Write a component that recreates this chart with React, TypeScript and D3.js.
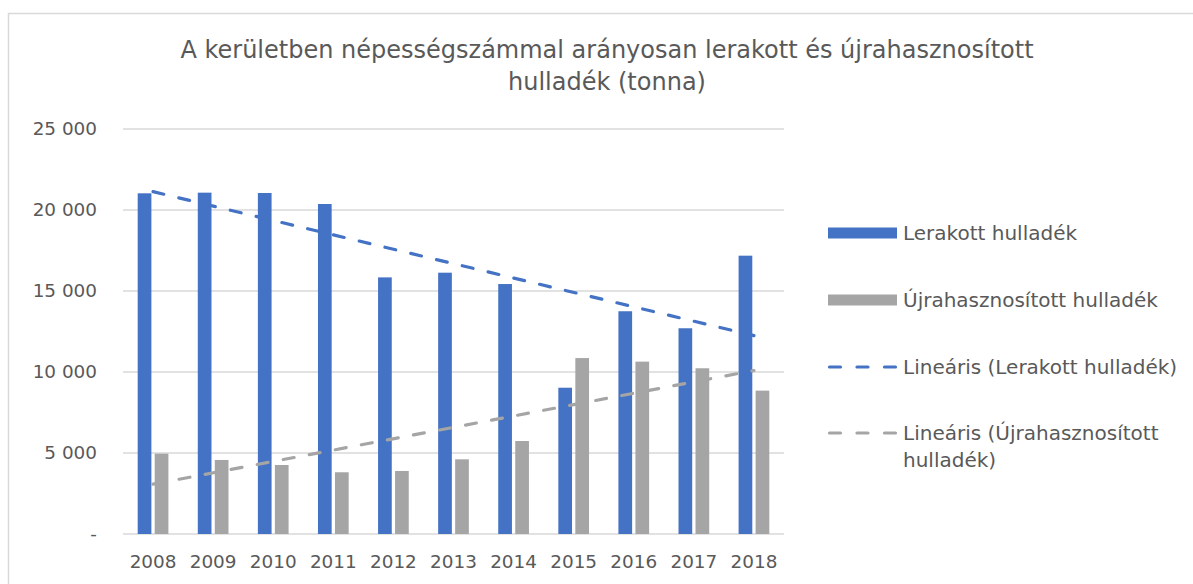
import { useRef, useEffect } from "react";
import * as d3 from "d3";

const years = ["2008", "2009", "2010", "2011", "2012", "2013", "2014", "2015", "2016", "2017", "2018"];
const lerakott = [21030, 21070, 21050, 20370, 15840, 16130, 15430, 9030, 13750, 12700, 17180];
const ujrahasznositott = [4960, 4570, 4260, 3810, 3890, 4610, 5740, 10860, 10640, 10230, 8850];
const yTicks = [0, 5000, 10000, 15000, 20000, 25000];
const titleLines = [
  "A kerületben népességszámmal arányosan lerakott és újrahasznosított",
  "hulladék (tonna)",
];
const legendLabels = [
  ["Lerakott hulladék"],
  ["Újrahasznosított hulladék"],
  ["Lineáris (Lerakott hulladék)"],
  ["Lineáris (Újrahasznosított", "hulladék)"],
];

const BLUE = "#4472C4";
const GRAY = "#A5A5A5";
const TEXT = "#595959";
const FONT = "'DejaVu Sans', sans-serif";

// least squares fit over category index, returns values at first and last index
function trend(vals: number[]) {
  const n = vals.length;
  const mx = d3.mean(vals.map((_, i) => i)) as number;
  const my = d3.mean(vals) as number;
  let sxy = 0, sxx = 0;
  vals.forEach((v, i) => { sxy += (i - mx) * (v - my); sxx += (i - mx) ** 2; });
  const b = sxy / sxx;
  return [my + b * (0 - mx), my + b * (n - 1 - mx)];
}

export default function App() {
  const ref = useRef<SVGSVGElement>(null);

  useEffect(() => {
    document.body.style.margin = "0";
    if (!ref.current) return;
    const W = 1193, H = 584;
    const svg = d3.select(ref.current);
    svg.selectAll("*").remove();
    svg.attr("width", W).attr("height", H);

    const left = 123, right = 784, top = 129, bottom = 534;

    // chart frame
    svg.append("rect").attr("x", 8.5).attr("y", 13.5).attr("width", 1200).attr("height", 600)
      .attr("fill", "#fff").attr("stroke", "#D9D9D9").attr("stroke-width", 1.5);

    const x = d3.scaleBand().domain(years).range([left, right]);
    const y = d3.scaleLinear().domain([0, 25000]).range([bottom, top]);

    // title
    titleLines.forEach((t, i) => {
      svg.append("text").attr("x", 607).attr("y", 58 + i * 32).attr("text-anchor", "middle")
        .attr("font-family", FONT).attr("font-size", 24).attr("fill", TEXT).text(t);
    });

    // gridlines
    svg.append("g").selectAll("line").data(yTicks).join("line")
      .attr("x1", left).attr("x2", right)
      .attr("y1", (d) => y(d)).attr("y2", (d) => y(d))
      .attr("stroke", "#D9D9D9").attr("stroke-width", 1.3);

    // y labels
    svg.append("g").selectAll("text").data(yTicks).join("text")
      .attr("x", 97).attr("y", (d) => y(d)).attr("dy", "0.35em").attr("text-anchor", "end")
      .attr("font-family", FONT).attr("font-size", 18.4).attr("fill", TEXT)
      .text((d) => (d === 0 ? "-" : d3.format(",")(d).replace(/,/g, " ")));

    // x labels
    svg.append("g").selectAll("text").data(years).join("text")
      .attr("x", (d) => (x(d) as number) + x.bandwidth() / 2).attr("y", 568).attr("text-anchor", "middle")
      .attr("font-family", FONT).attr("font-size", 18.4).attr("fill", TEXT).text((d) => d);

    // bars
    const bw = x.bandwidth() * 0.228;
    const gap = x.bandwidth() * 0.055;
    const series = [
      { vals: lerakott, color: BLUE, off: -gap / 2 - bw },
      { vals: ujrahasznositott, color: GRAY, off: gap / 2 },
    ];
    series.forEach((s) => {
      svg.append("g").selectAll("rect").data(s.vals).join("rect")
        .attr("x", (_, i) => (x(years[i]) as number) + x.bandwidth() / 2 + s.off)
        .attr("y", (d) => y(d)).attr("width", bw).attr("height", (d) => y(0) - y(d))
        .attr("fill", s.color);
    });

    // trend lines
    const cx0 = (x(years[0]) as number) + x.bandwidth() / 2;
    const cx1 = (x(years[years.length - 1]) as number) + x.bandwidth() / 2;
    [{ vals: lerakott, color: BLUE }, { vals: ujrahasznositott, color: GRAY }].forEach((s) => {
      const [a, b] = trend(s.vals);
      svg.append("line").attr("x1", cx0).attr("y1", y(a)).attr("x2", cx1).attr("y2", y(b))
        .attr("stroke", s.color).attr("stroke-width", 3.2).attr("stroke-linecap", "round")
        .attr("stroke-dasharray", "11,15.5");
    });

    // legend
    const lx = 828, rowY = [233, 300, 367, 433];
    legendLabels.forEach((lines, i) => {
      const color = i % 2 === 0 ? BLUE : GRAY;
      if (i < 2) {
        svg.append("rect").attr("x", lx).attr("y", rowY[i] - 5.5).attr("width", 69).attr("height", 11).attr("fill", color);
      } else {
        svg.append("line").attr("x1", lx + 1.5).attr("x2", lx + 67.5).attr("y1", rowY[i]).attr("y2", rowY[i])
          .attr("stroke", color).attr("stroke-width", 3.2).attr("stroke-linecap", "round")
          .attr("stroke-dasharray", "11,16.5");
      }
      lines.forEach((t, j) => {
        svg.append("text").attr("x", 903).attr("y", rowY[i] + j * 27).attr("dy", "0.35em")
          .attr("font-family", FONT).attr("font-size", 20).attr("fill", TEXT).text(t);
      });
    });
  }, []);

  return <svg ref={ref} style={{ display: "block" }} />;
}
